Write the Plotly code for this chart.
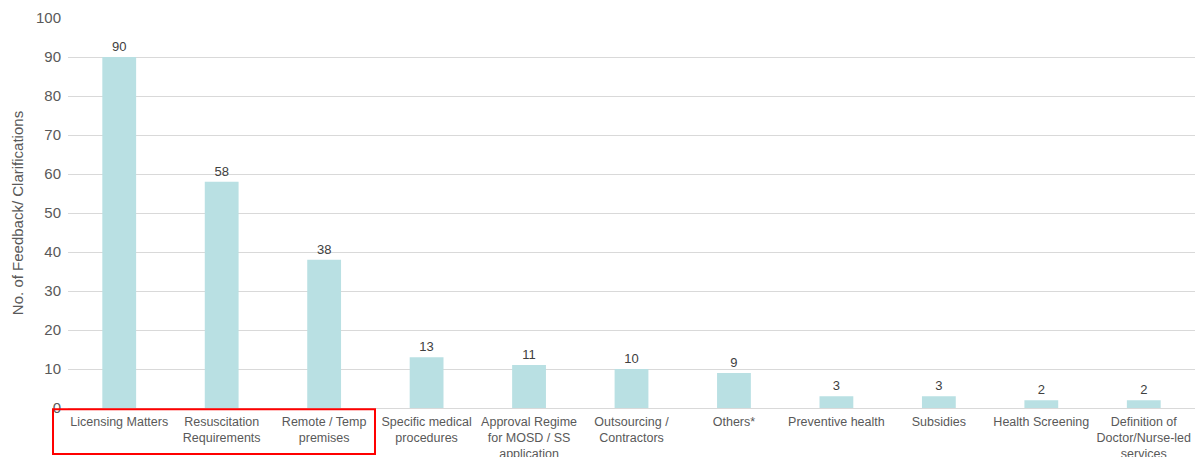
import plotly.graph_objects as go

categories = [
    "Licensing Matters",
    "Resuscitation<br>Requirements",
    "Remote / Temp<br>premises",
    "Specific medical<br>procedures",
    "Approval Regime<br>for MOSD / SS<br>application",
    "Outsourcing /<br>Contractors",
    "Others*",
    "Preventive health",
    "Subsidies",
    "Health Screening",
    "Definition of<br>Doctor/Nurse-led<br>services",
]
values = [90, 58, 38, 13, 11, 10, 9, 3, 3, 2, 2]
y_title = "No. of Feedback/ Clarifications"

fig = go.Figure()
fig.add_trace(go.Bar(
    x=list(range(len(categories))),
    y=values,
    marker=dict(color="#B9E0E3", line=dict(width=0)),
    text=[str(v) for v in values],
    textposition="outside",
    textfont=dict(family="Liberation Sans, Arial", size=13, color="#404040"),
    cliponaxis=False,
    width=0.33,
))

fig.add_shape(
    type="rect", xref="paper", yref="paper",
    x0=-0.0133, x1=0.2724, y0=-0.003, y1=-0.118,
    line=dict(color="#FF0000", width=2),
)

fig.update_layout(
    width=1200, height=457,
    margin=dict(l=68, r=5, t=18, b=49),
    plot_bgcolor="white", paper_bgcolor="white",
    showlegend=False,
    font=dict(family="Liberation Sans, Arial", color="#595959"),
    xaxis=dict(
        tickmode="array",
        tickvals=list(range(len(categories))),
        ticktext=categories,
        range=[-0.5, len(categories) - 0.5],
        tickfont=dict(size=12.5, color="#595959"),
        showgrid=False, zeroline=False, showline=False,
        ticks="", tickangle=0, ticklabelstandoff=4, automargin=False,
    ),
    yaxis=dict(
        range=[0, 100], dtick=10,
        showgrid=True, gridcolor="#D9D9D9", gridwidth=1,
        zeroline=True, zerolinecolor="#D9D9D9", zerolinewidth=1,
        tickfont=dict(size=15, color="#595959"),
        title=dict(text=y_title, font=dict(size=15, color="#595959"), standoff=8),
        ticks="", showline=False, ticklabelstandoff=6, automargin=False,
    ),
)

fig.write_html("out.html")
